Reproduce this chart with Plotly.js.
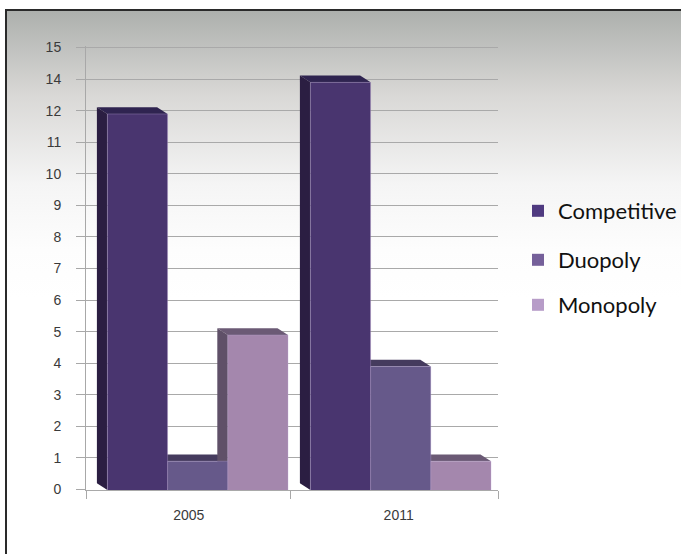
<!DOCTYPE html>
<html>
<head>
<meta charset="utf-8">
<script src="https://cdn.plot.ly/plotly-3.0.1.min.js"></script>
<style>
  html, body { margin: 0; padding: 0; width: 681px; height: 554px; overflow: hidden; background: #fff; }
  #panel { position: absolute; left: 5px; top: 9px; width: 676px; height: 545px; box-sizing: border-box;
           border-left: 2px solid #2a2a2a; border-top: 2px solid #2a2a2a;
           background: linear-gradient(180deg, #adb0ad 0%, #d9d8d6 15.5%, #f5f5f5 32%, #fdfdfd 44%, #ffffff 53%, #ffffff 100%); }
  #chart { position: absolute; left: 0; top: 0; width: 681px; height: 554px; }
</style>
</head>
<body>
<div id="panel"></div>
<div id="chart"></div>
<script>
// Market structure counts by year
const years = ['2005', '2011'];
const structures = ['Competitive', 'Duopoly', 'Monopoly'];
const competitive = [12, 14];
const duopoly = [1, 4];
const monopoly = [5, 1];
const seriesValues = [competitive, duopoly, monopoly];

// The value axis prints these labels at evenly spaced rows
const valueLabels = ['0','1','2','3','4','5','6','7','8','9','10','11','12','14','15'];
const rowOf = v => valueLabels.indexOf(String(v));

const frontColors = ['#49356f', '#66598a', '#a487ad'];
const topColors = ['#2f2450', '#453b5e', '#6b5a75'];
const sideColors = ['#2b1e42', '#3d3258', '#5f5068'];
const swatchColors = ['#4f3a80', '#75609a', '#b79cc8'];

// Plot frame in page pixels
const W = 681, H = 554;
const frameL = 86.3, frameR = 498.3, frameT = 45.5, frameB = 490;
const gridBase = 489.5, gridTop = 47;
const groupStep = 203, barPx = 60.2, firstCentre = 198;
const xMin = -(firstCentre - frameL) / groupStep;
const xMax = xMin + (frameR - frameL) / groupStep;
const rowPx = (gridBase - gridTop) / 14;
const depthX = 10.5 / groupStep;
const depthY = 6.8 / rowPx;
const barW = barPx / groupStep;

// Box fronts stand a few pixels ahead of the rows, so their scale is shifted down
const frontBase = gridBase + 3.3;
const floorRow = (frontBase - frameB) / rowPx;
const ceilRow = (frontBase - frameT) / rowPx;

const traces = [];
const shapes = [];
structures.forEach((name, s) => {
  const xs = years.map((_, i) => i + (s - 1) * barW);
  const ys = seriesValues[s].map(rowOf);
  traces.push({
    type: 'bar', name, x: xs, y: ys, width: barW,
    marker: { color: frontColors[s], line: { color: 'rgba(190,170,215,0.55)', width: 0.6 } },
    showlegend: false, hoverinfo: 'skip'
  });
  xs.forEach((cx, i) => {
    const l = cx - barW / 2, r = cx + barW / 2, y = ys[i];
    const poly = (pts, fill) => shapes.push({
      type: 'path', layer: 'between', xref: 'x', yref: 'y',
      path: 'M' + pts.map(p => p[0] + ',' + p[1]).join('L') + 'Z',
      fillcolor: fill, line: { width: 0 }
    });
    // top face, then the left side of each box
    poly([[l, y], [r, y], [r - depthX, y + depthY], [l - depthX, y + depthY]], topColors[s]);
    poly([[l, floorRow], [l, y], [l - depthX, y + depthY], [l - depthX, floorRow + depthY]], sideColors[s]);
  });
});

// Gridlines and labels live on the printed-row axis; one empty trace keeps it active
traces.push({ type: 'scatter', mode: 'none', x: [0], y: [0], yaxis: 'y2', showlegend: false, hoverinfo: 'skip' });

// Legend entries
const legendNames = ['legend', 'legend2', 'legend3'];
const legendRows = [211, 260, 305];
structures.forEach((name, s) => {
  traces.push({
    type: 'scatter', mode: 'markers', name, x: [null], y: [null],
    marker: { symbol: 'square', size: 14, color: swatchColors[s] },
    legend: legendNames[s]
  });
});

const legendBox = row => ({
  xref: 'container', yref: 'container',
  x: 518 / W, xanchor: 'left', y: 1 - row / H, yanchor: 'middle',
  bgcolor: 'rgba(0,0,0,0)', borderwidth: 0, itemsizing: 'constant', itemclick: false, itemdoubleclick: false,
  font: { family: 'Lato, Carlito, sans-serif', size: 22, color: '#111' }
});

const layout = {
  width: W, height: H, autosize: false,
  paper_bgcolor: 'rgba(0,0,0,0)', plot_bgcolor: 'rgba(0,0,0,0)',
  margin: { l: frameL, r: W - frameR, t: frameT, b: H - frameB, pad: 0 },
  font: { family: '"Liberation Sans", Arial, sans-serif', size: 14, color: '#3a3a3a' },
  barmode: 'overlay',
  xaxis: {
    range: [xMin, xMax], showgrid: false, zeroline: false,
    showline: true, linecolor: '#a9a9a9', linewidth: 1,
    tickmode: 'array', tickvals: [-0.044, 0.99], ticktext: years, ticks: '', ticklabelstandoff: 12,
    minor: { tickmode: 'array', tickvals: [xMin, xMin + 204.7 / groupStep, xMax], ticks: 'outside', ticklen: 8, tickwidth: 1, tickcolor: '#a8a8a8' },
    tickfont: { size: 14 }
  },
  yaxis: { range: [floorRow, ceilRow], visible: false, showgrid: false, zeroline: false },
  yaxis2: {
    overlaying: 'y', side: 'left',
    range: [(gridBase - frameB) / rowPx, (gridBase - frameT) / rowPx],
    showgrid: true, gridcolor: '#a9a9a9', gridwidth: 1,
    zeroline: false, showline: true, linecolor: '#a8a8a8', linewidth: 1,
    tickmode: 'array', tickvals: valueLabels.map((_, i) => i), ticktext: valueLabels,
    ticks: 'outside', ticklen: 9, tickcolor: '#a8a8a8', tickwidth: 1,
    tickfont: { size: 14 }, ticklabelstandoff: 12
  },
  shapes,
  legend: legendBox(legendRows[0]),
  legend2: legendBox(legendRows[1]),
  legend3: legendBox(legendRows[2]),
  showlegend: true
};

Plotly.newPlot('chart', traces, layout, { displayModeBar: false, staticPlot: true });
</script>
</body>
</html>
